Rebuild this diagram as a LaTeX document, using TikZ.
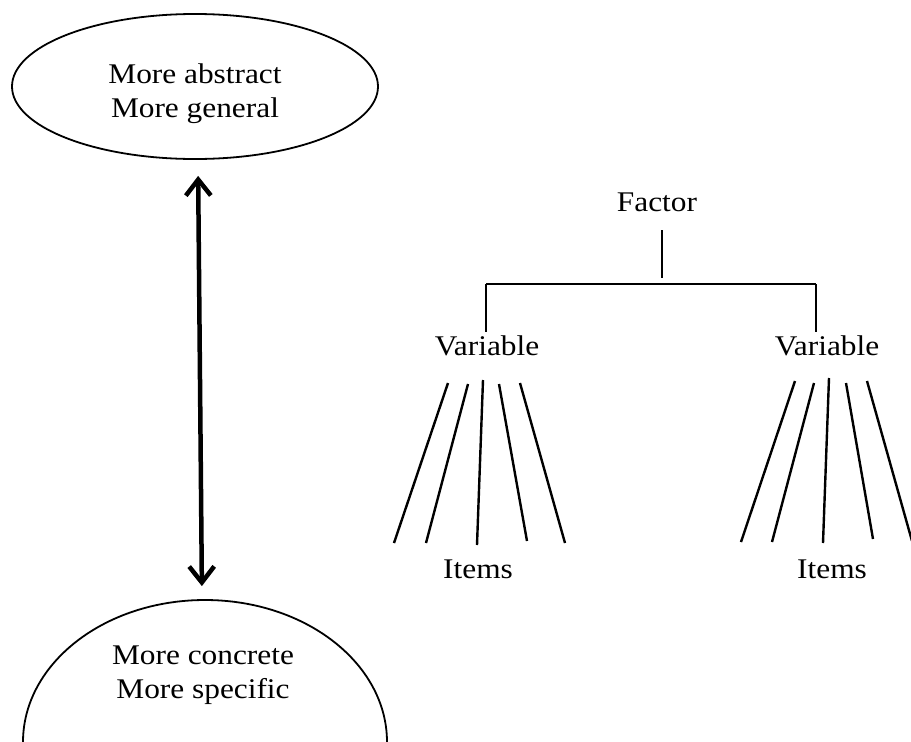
\documentclass[tikz,border=0pt]{standalone}
\usepackage{fontspec}
\setmainfont[FakeStretch=1.1]{Liberation Serif}
\usetikzlibrary{shapes.geometric,arrows.meta,calc}
\tikzset{
        oval/.style={ellipse, draw, line width=1.8pt, inner sep=0pt},
        word/.style={inner sep=0pt, font=\fontsize{28.5}{34.5}\selectfont, align=center},
        treeline/.style={line width=2.4pt},
        updown/.style={line width=4.5pt, {Straight Barb[length=16pt,width=25pt,line width=4.5pt]}-{Straight Barb[length=16pt,width=25pt,line width=4.5pt]}}
    }

\begin{document}
\begin{tikzpicture}[x=1pt,y=-1pt]
\useasboundingbox (0,0) rectangle (911,742);
\clip (0,0) rectangle (911,742);
% the two ovals and the arrow between them
\node[oval, minimum width=366pt, minimum height=145pt] (highell) at (195,86.5) {};
\node[word] (hightxt) at (195,93.5) {More abstract\\More general};
\node[oval, minimum width=364pt, minimum height=284pt] (lowell) at (205,742) {};
\node[word] (lowtxt) at (203,675) {More concrete\\More specific};
\draw[updown, shorten <=16pt, shorten >=13pt] ([xshift=3pt]highell.south) -- ([xshift=-3pt]lowell.north);

% factor tree
\node[word, anchor=base] (fac) at (657,211) {Factor};
\node[word, anchor=base] (varL) at (487,355) {Variable};
\node[word, anchor=base] (varR) at (827,355) {Variable};
\node[word, anchor=base] (itmL) at (478,578) {Items};
\node[word, anchor=base] (itmR) at (832,578) {Items};
\coordinate (barL) at (486,284);
\coordinate (barM) at (662,284);
\coordinate (barR) at (816,284);
\draw[treeline, shorten <=19pt, shorten >=6pt] (fac.south -| barM) -- (barM);
\draw[treeline] (barL) -- (barR);
\draw[treeline, shorten >=3pt] (barL) -- (varL.north -| barL);
\draw[treeline, shorten >=3pt] (barR) -- (varR.north -| barR);

% items fanning out of each variable
\foreach \a/\t/\b/\u in {-39/28/-84/-35, -19/29/-52/-35, -4/25/-1/-33, 12/29/49/-37, 33/28/87/-35}
  \draw[treeline] ($(varL.base)+(\a,\t)$) -- ($(itmL.base)+(\b,\u)$);
\foreach \a/\t/\b/\u in {-32/26/-91/-36, -13/28/-60/-36, 2/23/-9/-35, 19/28/41/-39, 40/26/80/-37}
  \draw[treeline] ($(varR.base)+(\a,\t)$) -- ($(itmR.base)+(\b,\u)$);

\end{tikzpicture}
\end{document}
